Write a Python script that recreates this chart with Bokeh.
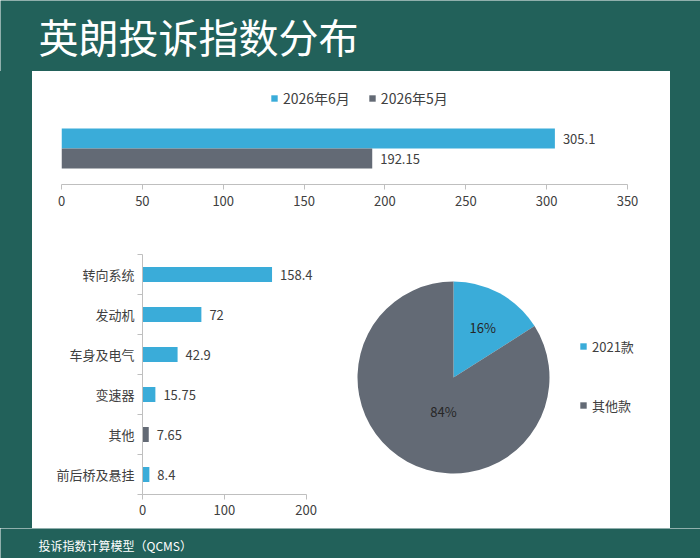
import math
from bokeh.plotting import figure
from bokeh.layouts import column, row
from bokeh.models import (Range1d, ColumnDataSource, Label, LabelSet, FixedTicker, Spacer)
from bokeh.embed import file_html
from bokeh.resources import INLINE
from bokeh.core.properties import value

# ---------------- data ----------------
title_text = "英朗投诉指数分布"
footer_text = "投诉指数计算模型（QCMS）"

series = ["2026年6月", "2026年5月"]
series_values = [305.1, 192.15]
top_ticks = [0, 50, 100, 150, 200, 250, 300, 350]

components = ["转向系统", "发动机", "车身及电气", "变速器", "其他", "前后桥及悬挂"]
component_values = [158.4, 72, 42.9, 15.75, 7.65, 8.4]
component_ticks = [0, 100, 200]

pie_labels = ["2021款", "其他款"]
pie_values = [16, 84]

# ---------------- styles ----------------
GREEN = "#22615a"
BLUE = "#3aacd9"
GRAY = "#636a75"
TXT = "#404040"
AXIS = "#bfbfbf"
FONT = "Noto Sans CJK SC"


def base(width, height, **kw):
    p = figure(width=width, height=height, toolbar_location=None,
               output_backend="svg", title_location=None, **kw)
    p.outline_line_color = None
    p.grid.visible = False
    return p


def style_axis(ax):
    ax.axis_line_color = AXIS
    ax.major_tick_line_color = AXIS
    ax.major_tick_out = 5
    ax.major_tick_in = 0
    ax.minor_tick_line_color = None
    ax.major_label_text_font = FONT
    ax.major_label_text_font_size = "13px"
    ax.major_label_text_color = TXT


def value_labels(p, src):
    p.add_layout(LabelSet(x="val", y="y", text="label", x_offset=8,
                          text_baseline="middle", text_font=value(FONT),
                          text_font_size="13px", text_color=TXT, source=src))


# ---------------- header ----------------
header = base(700, 71, x_range=Range1d(0, 700), y_range=Range1d(0, 71), min_border=0,
              x_axis_location=None, y_axis_location=None)
header.background_fill_color = GREEN
header.border_fill_color = GREEN
header.add_layout(Label(x=38, y=36, text=title_text, text_font=FONT,
                        text_font_size="40px", text_color="white",
                        text_baseline="middle"))

# ---------------- top chart ----------------
top = base(638, 170, x_range=Range1d(0, 350), y_range=Range1d(-1.3, 3.85),
           y_axis_location=None,
           min_border_left=29, min_border_right=43, min_border_top=10, min_border_bottom=57)
n = len(series)
src_top = ColumnDataSource(dict(
    name=series, val=series_values,
    y=[n - 1 - i for i in range(n)],
    color=[BLUE, GRAY][:n],
    label=[str(v) for v in series_values]))
top.hbar(y="y", left=0, right="val", height=1.0, fill_color="color",
         line_color=None, source=src_top, legend_field="name")
value_labels(top, src_top)
style_axis(top.xaxis[0])
top.xaxis.ticker = FixedTicker(ticks=top_ticks)
top.xaxis.major_label_standoff = 6
lg = top.legend[0]
lg.location = (209, 76)
lg.orientation = "horizontal"
lg.border_line_color = None
lg.background_fill_alpha = 0
lg.padding = 0
lg.margin = 0
lg.spacing = 18
lg.glyph_width = 8
lg.glyph_height = 8
lg.label_standoff = 5
lg.label_height = 20
lg.label_text_font = FONT
lg.label_text_font_size = "14px"
lg.label_text_color = TXT

# ---------------- component bar chart ----------------
m = len(components)
BT, BB = 13, 34   # border top / bottom of the lower row (frames are aligned in a row)
bars = base(308, 287, x_range=Range1d(0, 225), y_range=Range1d(0, m),
            min_border_left=110, min_border_right=14, min_border_top=BT, min_border_bottom=BB)
src_c = ColumnDataSource(dict(
    name=components, val=component_values,
    y=[m - i - 0.5 for i in range(m)],
    color=[GRAY if c == "其他" else BLUE for c in components],
    label=[str(v) for v in component_values]))
bars.hbar(y="y", left=0, right="val", height=0.375, fill_color="color",
          line_color=None, source=src_c)
value_labels(bars, src_c)
style_axis(bars.xaxis[0])
bars.xaxis.ticker = FixedTicker(ticks=component_ticks)
bars.xaxis.bounds = (component_ticks[0], component_ticks[-1])
bars.xaxis.major_label_standoff = 5
yax = bars.yaxis[0]
style_axis(yax)
yax.ticker = FixedTicker(ticks=[m - i - 0.5 for i in range(m)],
                         minor_ticks=list(range(m + 1)))
yax.major_label_overrides = {m - i - 0.5: c for i, c in enumerate(components)}
yax.major_tick_out = 0
yax.minor_tick_line_color = AXIS
yax.minor_tick_out = 5
yax.minor_tick_in = 0
yax.major_label_standoff = 3

# ---------------- pie ----------------
pie = base(330, 287, x_range=Range1d(0, 330), y_range=Range1d(BB, 287 - BT),
           min_border=0, min_border_top=BT, min_border_bottom=BB,
           x_axis_location=None, y_axis_location=None)
total = float(sum(pie_values))
starts, ends, mids = [], [], []
cum = 0.0
for v in pie_values:
    a0 = math.pi / 2 - 2 * math.pi * cum / total
    cum += v
    a1 = math.pi / 2 - 2 * math.pi * cum / total
    starts.append(a0)
    ends.append(a1)
    mids.append((a0 + a1) / 2)
CX, CY, R = 113, 151, 96
label_frac = [0.6, 0.373]
label_nudge = [math.radians(-1.7), math.radians(12.6)]
src_p = ColumnDataSource(dict(
    name=pie_labels, start=starts, end=ends,
    color=[BLUE, GRAY][:len(pie_values)],
    pct=["%d%%" % round(100 * v / total) for v in pie_values],
    lx=[CX + R * f * math.cos(a + d) for a, f, d in zip(mids, label_frac, label_nudge)],
    ly=[CY + R * f * math.sin(a + d) for a, f, d in zip(mids, label_frac, label_nudge)]))
pie.wedge(x=CX, y=CY, radius=R, radius_units="screen", start_angle="start",
          end_angle="end", direction="clock", fill_color="color",
          line_color=None, source=src_p, legend_field="name")
pie.text(x="lx", y="ly", text="pct", text_align="center", text_baseline="middle",
         text_font=value(FONT), text_font_size="13px", text_color="#262626", source=src_p)
pl = pie.legend[0]
pl.location = (239, 79)
pl.border_line_color = None
pl.background_fill_alpha = 0
pl.padding = 0
pl.margin = 0
pl.spacing = 39
pl.glyph_width = 8
pl.glyph_height = 8
pl.label_standoff = 5
pl.label_height = 20
pl.label_text_font = FONT
pl.label_text_font_size = "13px"
pl.label_text_color = TXT

# ---------------- footer ----------------
footer = base(700, 30, x_range=Range1d(0, 700), y_range=Range1d(0, 30), min_border=0,
              x_axis_location=None, y_axis_location=None)
footer.background_fill_color = GREEN
footer.border_fill_color = GREEN
footer.add_layout(Label(x=38, y=13, text=footer_text, text_font=FONT,
                        text_font_size="12px", text_color="white",
                        text_baseline="middle"))

strip = {"background-color": GREEN}
panel = column(top, row(bars, pie))
mid = row(Spacer(width=32, height=457, styles=strip), panel,
          Spacer(width=30, height=457, styles=strip))
page = column(header, mid, footer)

html = file_html(page, INLINE)
html = html.replace("<body>", '<body style="margin:0;background-color:%s;overflow:hidden;">' % GREEN, 1)
open("out.html", "w").write(html)
